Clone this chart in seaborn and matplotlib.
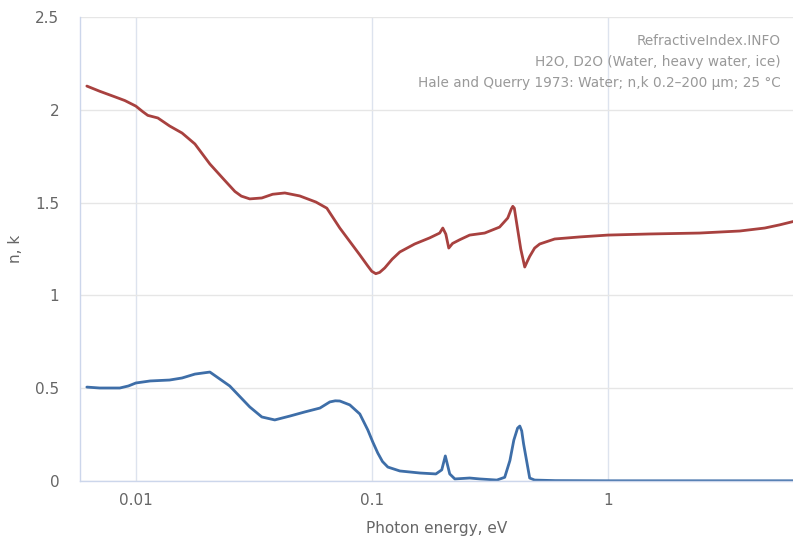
import numpy as np
import pandas as pd
import seaborn as sns
import matplotlib.pyplot as plt
from matplotlib.ticker import FixedLocator, NullLocator

# photon energy (eV) and n for water
n_energy = [0.0062, 0.00703, 0.00815, 0.00898, 0.01, 0.0107, 0.01124, 0.0124, 0.0139, 0.0157,
            0.0178, 0.0206, 0.0238, 0.0263, 0.028, 0.0304, 0.0342, 0.038, 0.0428, 0.0495, 0.058,
            0.0645, 0.0732, 0.089, 0.096, 0.1, 0.104, 0.108, 0.1135, 0.122, 0.1315, 0.152, 0.176, 0.194,
            0.2, 0.206, 0.212, 0.22, 0.236, 0.26, 0.301, 0.348, 0.377, 0.39, 0.396, 0.402, 0.41, 0.428, 0.445,
            0.455, 0.467, 0.49, 0.515, 0.596, 0.76, 1.0, 1.507, 2.45, 3.63, 4.63, 5.35, 6.2]
n_values = [2.128, 2.10, 2.07, 2.05, 2.02, 1.99, 1.97, 1.956, 1.913, 1.875,
            1.816, 1.708, 1.62, 1.56, 1.535, 1.52, 1.525, 1.545, 1.552, 1.536, 1.503,
            1.47, 1.363, 1.218, 1.16, 1.13, 1.117, 1.124, 1.148, 1.195, 1.234, 1.277, 1.31, 1.336,
            1.363, 1.33, 1.255, 1.28, 1.30, 1.325, 1.336, 1.368, 1.417, 1.465, 1.48, 1.47, 1.40, 1.25, 1.153,
            1.18, 1.21, 1.255, 1.277, 1.304, 1.315, 1.325, 1.331, 1.336, 1.347, 1.363, 1.38, 1.40]

# photon energy (eV) and k
k_energy = [0.0062, 0.00703, 0.00855, 0.0093, 0.01, 0.0115, 0.0139, 0.0157, 0.0178, 0.0206,
            0.025, 0.0304, 0.0342, 0.0388, 0.045, 0.052, 0.0603, 0.0664, 0.07, 0.0732,
            0.0807, 0.089, 0.0962, 0.101, 0.106, 0.111, 0.117, 0.1315, 0.16, 0.187, 0.198, 0.205,
            0.214, 0.225, 0.26, 0.287, 0.339, 0.366, 0.385, 0.4, 0.415, 0.424, 0.432, 0.44, 0.467,
            0.49, 0.6, 1.0, 2.0, 4.0, 6.2]
k_values = [0.506, 0.501, 0.501, 0.512, 0.528, 0.539, 0.544, 0.555, 0.576, 0.587,
            0.512, 0.399, 0.345, 0.329, 0.35, 0.372, 0.393, 0.426, 0.432, 0.431,
            0.41, 0.361, 0.275, 0.21, 0.151, 0.105, 0.075, 0.054, 0.043, 0.038, 0.06, 0.135,
            0.038, 0.011, 0.016, 0.011, 0.005, 0.02, 0.11, 0.22, 0.285, 0.296, 0.27, 0.2, 0.016,
            0.005, 0.002, 0.001, 0.001, 0.001, 0.001]

x_ticks = [0.01, 0.1, 1]
x_tick_labels = ["0.01", "0.1", "1"]
y_ticks = [0, 0.5, 1, 1.5, 2, 2.5]
y_tick_labels = ["0", "0.5", "1", "1.5", "2", "2.5"]

sns.set_style("white")
plt.rcParams['font.family'] = ['DejaVu Sans']

df_n = pd.DataFrame({"E": n_energy, "v": n_values})
df_k = pd.DataFrame({"E": k_energy, "v": k_values})

fig = plt.figure(figsize=(7.93, 5.37), dpi=100)
ax = fig.add_axes([0.1009, 0.1043, 0.8991, 0.864])

ax.set_xscale("log")
sns.lineplot(data=df_n, x="E", y="v", ax=ax, color="#a8413f", linewidth=2.0)
sns.lineplot(data=df_k, x="E", y="v", ax=ax, color="#3e6ea8", linewidth=2.0)

ax.set_xlim(0.0058, 6.1)
ax.set_ylim(0, 2.5)
ax.xaxis.set_major_locator(FixedLocator(x_ticks))
ax.xaxis.set_minor_locator(NullLocator())
ax.set_xticklabels(x_tick_labels)
ax.set_yticks(y_ticks)
ax.set_yticklabels(y_tick_labels)

ax.grid(axis="x", color="#dde3ee", linewidth=1)
ax.grid(axis="y", color="#e6e6e6", linewidth=1)
ax.set_axisbelow(True)

for s in ["top", "right"]:
    ax.spines[s].set_visible(False)
for s in ["left", "bottom"]:
    ax.spines[s].set_color("#ccd6eb")
    ax.spines[s].set_linewidth(1)

ax.tick_params(axis="x", length=6, color="#ccd6eb", labelsize=11, labelcolor="#666666", pad=3)
ax.tick_params(axis="y", length=0, labelsize=11, labelcolor="#666666", pad=15)

ax.set_xlabel("Photon energy, eV", fontsize=11, color="#666666", labelpad=9)
ax.set_ylabel("n, k", fontsize=11, color="#666666", labelpad=9)

info = ["RefractiveIndex.INFO",
        "H2O, D2O (Water, heavy water, ice)",
        "Hale and Querry 1973: Water; n,k 0.2\u2013200 \u00b5m; 25 \u00b0C"]
for i, t in enumerate(info):
    fig.text(781 / 793, 1 - (41 + 21 * i) / 537, t, ha="right", va="center",
             fontsize=9.8, color="#999999")

fig.savefig("out.png", dpi=100)
